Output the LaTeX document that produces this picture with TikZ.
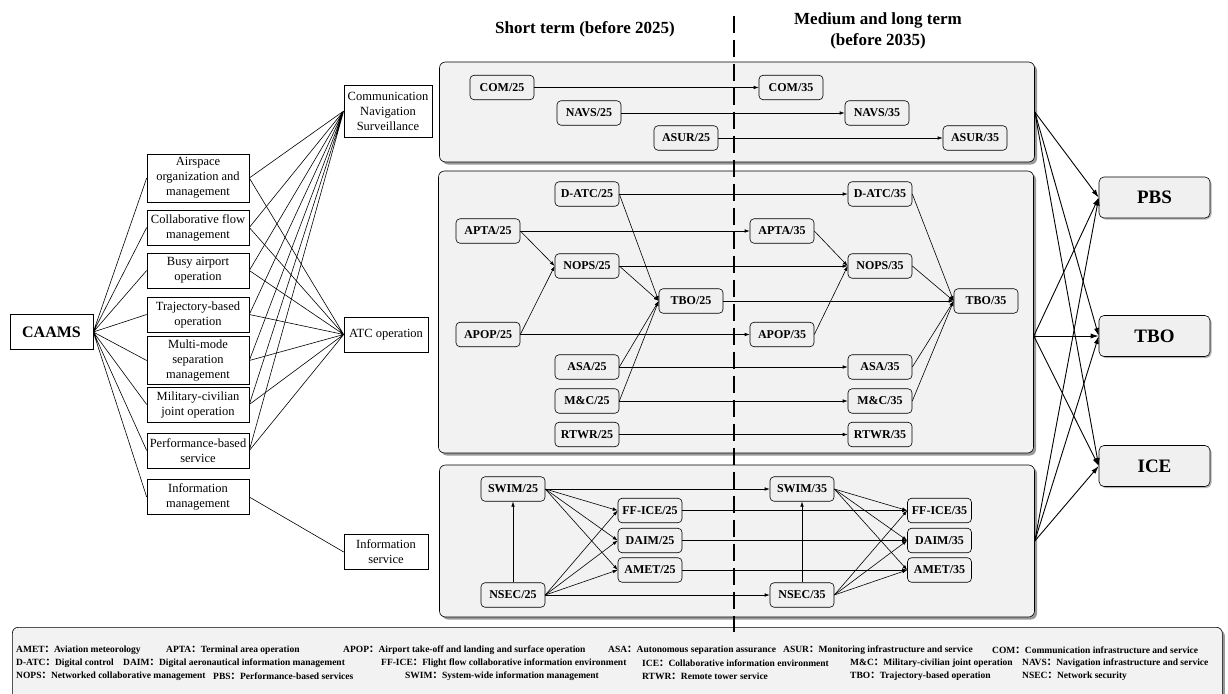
\documentclass[tikz,border=0pt]{standalone}
\usepackage{fontspec}
\setmainfont{Liberation Serif}
\newfontfamily\cjk{Noto Sans CJK SC}
\usetikzlibrary{arrows.meta, shadows}
\newcommand{\fcolon}{{\cjk ：}}

\begin{document}
\begin{tikzpicture}[x=1pt, y=-1pt,
    mbox/.style={draw, align=center, fill=white, minimum width=102pt, minimum height=35pt,
        inner xsep=2pt, inner ysep=3.5pt, line width=0.6pt, font=\fontsize{12.5}{15}\selectfont},
    area/.style={draw, align=center, fill=white, minimum width=84pt, minimum height=35pt,
        inner sep=3pt, line width=0.6pt, font=\fontsize{12.5}{15}\selectfont},
    cbox/.style={draw, rounded corners=4pt, fill=gray!12, minimum width=64pt, minimum height=24.5pt,
        inner xsep=3pt, line width=0.6pt, font=\fontsize{12}{14}\selectfont\bfseries},
    panel/.style={draw, rounded corners=6pt, fill=gray!10, line width=0.6pt,
        drop shadow={shadow xshift=2.5pt, shadow yshift=-2.5pt, fill=gray, opacity=0.8}},
    goal/.style={draw, rounded corners=5pt, fill=gray!12, minimum width=111pt, minimum height=41pt,
        line width=0.6pt, font=\fontsize{19}{22}\selectfont\bfseries,
        drop shadow={shadow xshift=1.5pt, shadow yshift=-1.5pt, fill=gray, opacity=0.6}},
    head/.style={align=center, font=\fontsize{17}{21}\selectfont\bfseries},
    legtext/.style={anchor=west, inner sep=0pt, font=\fontsize{9.5}{11}\selectfont\bfseries},
    link/.style={line width=0.6pt},
    flow/.style={-{Latex[length=5pt,width=3.5pt]}, line width=0.6pt},
    bigflow/.style={-{Latex[length=8pt,width=5pt]}, line width=0.9pt},
    divider/.style={line width=2.6pt, dash pattern=on 17pt off 7pt}
    ]

        \useasboundingbox (0,0) rectangle (1228,693);
        \clip (0,0) rectangle (1228,693);

        % headings
        \node[head] (short) at (585,29) {Short term (before 2025)};
        \node[head] (medium) at (878,31) {Medium and long term\\(before 2035)};

        % panels
        \node[panel, minimum width=595pt, minimum height=100pt] (cnspanel) at (737,112) {};
        \node[panel, minimum width=595pt, minimum height=282pt] (atcpanel) at (736,312) {};
        \node[panel, minimum width=595pt, minimum height=152pt] (infopanel) at (737,541) {};

        \node[panel, anchor=north west, minimum width=1210pt, minimum height=90pt] (legend) at (12,627) {};

        \coordinate (dtop) at (734,16);
        \coordinate (dbot) at (734,632);
        \draw[divider] (dtop) -- (dbot);

        % left side
        \node[draw, minimum width=83pt, minimum height=35pt, line width=0.6pt,
            font=\fontsize{16}{18}\selectfont\bfseries] (caams) at (51.5,332) {CAAMS};

        \node[mbox] (airspace) at (198,178) {Airspace\\organization and\\management};
        \node[mbox] (collab) at (198,227.5) {Collaborative flow\\management};
        \node[mbox] (busy) at (198,270.5) {Busy airport\\operation};
        \node[mbox] (traj) at (198,314.5) {Trajectory-based\\operation};
        \node[mbox] (multi) at (198,360.5) {Multi-mode\\separation\\management};
        \node[mbox] (milciv) at (198,404.5) {Military-civilian\\joint operation};
        \node[mbox] (perf) at (198,450.5) {Performance-based\\service};
        \node[mbox] (infomgmt) at (198,497) {Information\\management};

        \node[area, minimum width=88pt, minimum height=52pt] (cns) at (388,111) {Communication\\Navigation\\Surveillance};
        \node[area] (atc) at (386,334.5) {ATC operation};
        \node[area] (infoserv) at (386,552) {Information\\service};

        \draw[link] (caams.east) -- (airspace.west) (caams.east) -- (collab.west)
            (caams.east) -- (busy.west) (caams.east) -- (traj.west)
            (caams.east) -- (multi.west) (caams.east) -- (milciv.west)
            (caams.east) -- (perf.west) (caams.east) -- (infomgmt.west);

        \draw[link] (airspace.east) -- (cns.west) (collab.east) -- (cns.west)
            (busy.east) -- (cns.west) (traj.east) -- (cns.west)
            (multi.east) -- (cns.west) (milciv.east) -- (cns.west)
            (perf.east) -- (cns.west);

        \draw[link] (airspace.east) -- (atc.west) (collab.east) -- (atc.west)
            (busy.east) -- (atc.west) (traj.east) -- (atc.west)
            (multi.east) -- (atc.west) (milciv.east) -- (atc.west)
            (perf.east) -- (atc.west);

        \draw[link] (infomgmt.east) -- (infoserv.west);

        % CNS panel
        \node[cbox] (com25) at (502,87.5) {COM/25};
        \node[cbox] (navs25) at (589,113) {NAVS/25};
        \node[cbox] (asur25) at (686,138) {ASUR/25};
        \node[cbox] (com35) at (791,87.5) {COM/35};
        \node[cbox] (navs35) at (877,113) {NAVS/35};
        \node[cbox] (asur35) at (975,138) {ASUR/35};

        \draw[flow] (com25) -- (com35);
        \draw[flow] (navs25) -- (navs35);
        \draw[flow] (asur25) -- (asur35);

        % ATC panel
        \node[cbox] (datc25) at (587,194) {D-ATC/25};
        \node[cbox] (apta25) at (488,231) {APTA/25};
        \node[cbox] (nops25) at (587,266) {NOPS/25};
        \node[cbox] (tbo25) at (691,301) {TBO/25};
        \node[cbox] (apop25) at (488,334.5) {APOP/25};
        \node[cbox] (asa25) at (587,367) {ASA/25};
        \node[cbox] (mc25) at (587,401) {M\&C/25};
        \node[cbox] (rtwr25) at (587,434.5) {RTWR/25};

        \node[cbox] (datc35) at (880,194) {D-ATC/35};
        \node[cbox] (apta35) at (782,231) {APTA/35};
        \node[cbox] (nops35) at (880,266) {NOPS/35};
        \node[cbox] (tbo35) at (986,301) {TBO/35};
        \node[cbox] (apop35) at (782,334.5) {APOP/35};
        \node[cbox] (asa35) at (880,367) {ASA/35};
        \node[cbox] (mc35) at (880,401) {M\&C/35};
        \node[cbox] (rtwr35) at (880,434.5) {RTWR/35};

        \draw[flow] (datc25) -- (datc35);
        \draw[flow] (apta25) -- (apta35);
        \draw[flow] (nops25) -- (nops35);
        \draw[flow] (tbo25) -- (tbo35);
        \draw[flow] (apop25) -- (apop35);
        \draw[flow] (asa25) -- (asa35);
        \draw[flow] (mc25) -- (mc35);
        \draw[flow] (rtwr25) -- (rtwr35);

        \draw[flow] (apta25.east) -- (nops25.west);
        \draw[flow] (apop25.east) -- (nops25.west);
        \draw[flow] (datc25.east) -- (tbo25.west);
        \draw[flow] (nops25.east) -- (tbo25.west);
        \draw[flow] (asa25.east) -- (tbo25.west);
        \draw[flow] (mc25.east) -- (tbo25.west);

        \draw[flow] (apta35.east) -- (nops35.west);
        \draw[flow] (apop35.east) -- (nops35.west);
        \draw[flow] (datc35.east) -- (tbo35.west);
        \draw[flow] (nops35.east) -- (tbo35.west);
        \draw[flow] (asa35.east) -- (tbo35.west);
        \draw[flow] (mc35.east) -- (tbo35.west);

        % information panel
        \node[cbox] (swim25) at (513,489) {SWIM/25};
        \node[cbox] (ffice25) at (650,510.5) {FF-ICE/25};
        \node[cbox] (daim25) at (650,540.5) {DAIM/25};
        \node[cbox] (amet25) at (650,570) {AMET/25};
        \node[cbox] (nsec25) at (513,595) {NSEC/25};

        \node[cbox] (swim35) at (802,489) {SWIM/35};
        \node[cbox] (ffice35) at (939.5,510.5) {FF-ICE/35};
        \node[cbox] (daim35) at (939.5,540.5) {DAIM/35};
        \node[cbox] (amet35) at (939.5,570) {AMET/35};
        \node[cbox] (nsec35) at (802,595) {NSEC/35};

        \draw[flow] (swim25) -- (swim35);
        \draw[flow] (ffice25) -- (ffice35);
        \draw[flow] (daim25) -- (daim35);
        \draw[flow] (amet25) -- (amet35);
        \draw[flow] (nsec25) -- (nsec35);

        \draw[flow] (nsec25) -- (swim25);
        \draw[flow] (swim25.east) -- (ffice25.west);
        \draw[flow] (swim25.east) -- (daim25.west);
        \draw[flow] (swim25.east) -- (amet25.west);
        \draw[flow] (nsec25.east) -- (ffice25.west);
        \draw[flow] (nsec25.east) -- (daim25.west);
        \draw[flow] (nsec25.east) -- (amet25.west);

        \draw[flow] (nsec35) -- (swim35);
        \draw[flow] (swim35.east) -- (ffice35.west);
        \draw[flow] (swim35.east) -- (daim35.west);
        \draw[flow] (swim35.east) -- (amet35.west);
        \draw[flow] (nsec35.east) -- (ffice35.west);
        \draw[flow] (nsec35.east) -- (daim35.west);
        \draw[flow] (nsec35.east) -- (amet35.west);

        % right side
        \node[goal] (pbs) at (1154.5,197.5) {PBS};
        \node[goal] (tbo) at (1154.5,336) {TBO};
        \node[goal] (ice) at (1154.5,466) {ICE};

        \coordinate (atcout) at (atcpanel.east |- tbo.west);

        \draw[bigflow] (cnspanel.east) -- (pbs.west);
        \draw[bigflow] (cnspanel.east) -- (tbo.west);
        \draw[bigflow] (cnspanel.east) -- (ice.west);
        \draw[bigflow] (atcout) -- (pbs.west);
        \draw[bigflow] (atcout) -- (tbo.west);
        \draw[bigflow] (atcout) -- (ice.west);
        \draw[bigflow] (infopanel.east) -- (pbs.west);
        \draw[bigflow] (infopanel.east) -- (tbo.west);
        \draw[bigflow] (infopanel.east) -- (ice.west);

        % legend
        \node[legtext] (l-amet) at (16,650) {AMET\fcolon Aviation meteorology};
        \node[legtext] (l-apta) at (166,650) {APTA\fcolon Terminal area operation};
        \node[legtext] (l-apop) at (343,650) {APOP\fcolon Airport take-off and landing and surface operation};
        \node[legtext] (l-asa) at (608,650) {ASA\fcolon Autonomous separation assurance};
        \node[legtext] (l-asur) at (783,650) {ASUR\fcolon Monitoring infrastructure and service};
        \node[legtext] (l-com) at (992,650) {COM\fcolon Communication infrastructure and service};

        \node[legtext] (l-datc) at (16,663) {D-ATC\fcolon Digital control};
        \node[legtext] (l-daim) at (123,663) {DAIM\fcolon Digital aeronautical information management};
        \node[legtext] (l-ffice) at (381,663) {FF-ICE\fcolon Flight flow collaborative information environment};
        \node[legtext] (l-ice) at (642,663) {ICE\fcolon Collaborative information environment};
        \node[legtext] (l-mc) at (850,663) {M\&C\fcolon Military-civilian joint operation};
        \node[legtext] (l-navs) at (1022,663) {NAVS\fcolon Navigation infrastructure and service};

        \node[legtext] (l-nops) at (16,676) {NOPS\fcolon Networked collaborative management};
        \node[legtext] (l-pbs) at (213,676) {PBS\fcolon Performance-based services};
        \node[legtext] (l-swim) at (405,676) {SWIM\fcolon System-wide information management};
        \node[legtext] (l-rtwr) at (642,676) {RTWR\fcolon Remote tower service};
        \node[legtext] (l-tbo) at (850,676) {TBO\fcolon Trajectory-based operation};
        \node[legtext] (l-nsec) at (1022,676) {NSEC\fcolon Network security};

    \end{tikzpicture}
\end{document}
